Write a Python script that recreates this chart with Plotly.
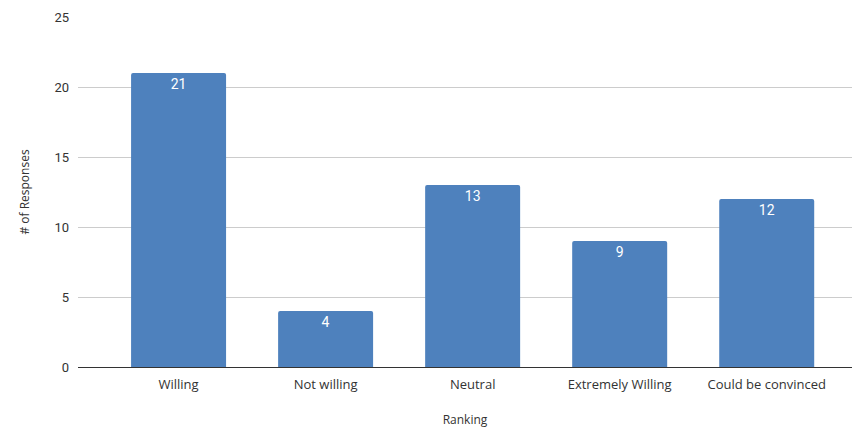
import plotly.graph_objects as go

categories = ["Willing", "Not willing", "Neutral", "Extremely Willing", "Could be convinced"]
responses = [21, 4, 13, 9, 12]
y_ticks = [0, 5, 10, 15, 20, 25]

fig = go.Figure(
    go.Bar(
        x=list(range(len(categories))),
        y=responses,
        text=[str(v) for v in responses],
        textposition="inside",
        insidetextanchor="end",
        textfont=dict(family="Roboto", size=14, color="white"),
        marker=dict(color="#4e81bd", cornerradius=2, line=dict(width=0)),
        width=0.646,
        hoverinfo="skip",
    )
)

fig.update_layout(
    width=855,
    height=428,
    margin=dict(l=78, r=3, t=17, b=61),
    paper_bgcolor="white",
    plot_bgcolor="white",
    showlegend=False,
    xaxis=dict(
        tickmode="array",
        tickvals=list(range(len(categories))),
        ticktext=categories,
        range=[-0.684, 4.58],
        showgrid=False,
        showline=True,
        linecolor="#333333",
        linewidth=1,
        ticks="",
        ticklabelstandoff=5,
        tickfont=dict(family="Open Sans", size=13, color="#333333"),
        title=dict(text="Ranking", font=dict(family="Open Sans", size=12, color="#333333"), standoff=24),
    ),
    yaxis=dict(
        range=[0, 25],
        tickvals=y_ticks,
        showgrid=True,
        gridcolor="#cccccc",
        gridwidth=1,
        zeroline=False,
        ticks="",
        ticklabelstandoff=8,
        tickfont=dict(family="Roboto", size=13, color="#333333"),
        title=dict(text="# of Responses", font=dict(family="Open Sans", size=12, color="#333333"), standoff=22),
    ),
)

fig.write_html("out.html")
